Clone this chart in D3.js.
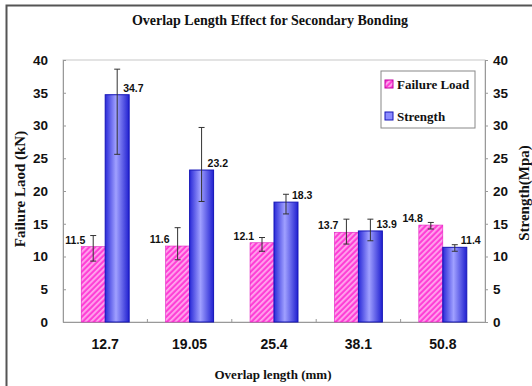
<!DOCTYPE html>
<html>
<head>
  <meta charset="utf-8">
  <title>Overlap Length Effect</title>
  <script src="https://d3js.org/d3.v7.min.js"></script>
  <style>
    body { margin: 0; background: #fff; }
    .tick-num { font-family: "Liberation Sans", Arial, sans-serif; font-weight: bold; fill: #111; }
    .serif { font-family: "Liberation Serif", "Times New Roman", serif; font-weight: bold; fill: #111; }
  </style>
</head>
<body>
<div id="chart"></div>
<script>
  "use strict"

  // dados
  var categorias = ["12.7", "19.05", "25.4", "38.1", "50.8"];
  var failureLoad = [11.5, 11.6, 12.1, 13.7, 14.8];
  var strength = [34.7, 23.2, 18.3, 13.9, 11.4];
  // erro (para cima / para baixo)
  var loadErrUp = [1.7, 2.8, 0.8, 2.0, 0.4];
  var loadErrDown = [2.2, 2.1, 1.3, 1.8, 0.6];
  var strErrUp = [3.9, 6.5, 1.2, 1.8, 0.4];
  var strErrDown = [9.1, 4.8, 1.8, 1.5, 0.6];
  var yTicks = [0, 5, 10, 15, 20, 25, 30, 35, 40];
  var series = ["Failure Load", "Strength"];

  var largura = 532, altura = 386;
  var margin = {top: 60, right: 47, bottom: 64, left: 63};
  var larguraVis = largura - margin.left - margin.right,
      alturaVis = altura - margin.top - margin.bottom;

  var svg = d3.select("#chart").append("svg")
      .attr("width", largura)
      .attr("height", altura);

  var defs = svg.append("defs");

  // hachura rosa
  var hatch = defs.append("pattern")
      .attr("id", "hatch")
      .attr("patternUnits", "userSpaceOnUse")
      .attr("width", 4).attr("height", 4)
      .attr("patternTransform", "rotate(45)");
  hatch.append("rect").attr("width", 4).attr("height", 4).attr("fill", "#ff3fd6");
  hatch.append("rect").attr("width", 1.8).attr("height", 4).attr("fill", "#ffa8ee");

  // gradiente azul (horizontal)
  var grad = defs.append("linearGradient")
      .attr("id", "blueGrad")
      .attr("x1", "0%").attr("x2", "100%").attr("y1", "0%").attr("y2", "0%");
  grad.append("stop").attr("offset", "0%").attr("stop-color", "#2a2ad8");
  grad.append("stop").attr("offset", "45%").attr("stop-color", "#a0a0ff");
  grad.append("stop").attr("offset", "100%").attr("stop-color", "#2020d0");

  // moldura externa (esquerda e topo)
  svg.append("path")
      .attr("d", "M6.5," + altura + "V5.5H" + largura)
      .attr("fill", "none")
      .attr("stroke", "#555")
      .attr("stroke-width", 2);

  var g = svg.append("g")
      .attr("transform", "translate(" + margin.left + "," + margin.top + ")");

  var x = d3.scaleBand()
      .domain(categorias)
      .range([0, larguraVis])
      .padding(0);

  var xSub = d3.scaleBand()
      .domain(series)
      .range([0, x.bandwidth()])
      .paddingInner(0)
      .paddingOuter(0.76);

  var y = d3.scaleLinear()
      .domain([0, 40])
      .range([alturaVis, 0]);

  // caixa da area do grafico
  g.append("rect")
      .attr("width", larguraVis)
      .attr("height", alturaVis)
      .attr("fill", "none")
      .attr("stroke", "#c8c8c8");

  // eixo esquerdo
  var eixoEsq = g.append("g")
      .call(d3.axisLeft(y).tickValues(yTicks).tickSizeInner(-3).tickSizeOuter(0).tickPadding(15));
  eixoEsq.select(".domain").attr("stroke", "#999");
  eixoEsq.selectAll("line").attr("stroke", "#999");
  eixoEsq.selectAll("text").attr("class", "tick-num").style("font-size", "13.5px");

  // eixo direito
  var eixoDir = g.append("g")
      .attr("transform", "translate(" + larguraVis + ",0)")
      .call(d3.axisRight(y).tickValues(yTicks).tickSizeInner(3).tickSizeOuter(0).tickPadding(5));
  eixoDir.select(".domain").attr("stroke", "#999");
  eixoDir.selectAll("line").attr("stroke", "#999");
  eixoDir.selectAll("text").attr("class", "tick-num").style("font-size", "13.5px");

  // eixo de baixo
  var eixoX = g.append("g")
      .attr("transform", "translate(0," + alturaVis + ")")
      .call(d3.axisBottom(x).tickSize(0).tickPadding(17));
  eixoX.select(".domain").attr("stroke", "#999");
  eixoX.selectAll("text").attr("class", "tick-num").style("font-size", "14px");

  // marcas entre categorias
  g.selectAll(".sep")
      .data(categorias.slice(1))
      .enter().append("line")
      .attr("x1", (d) => x(d)).attr("x2", (d) => x(d))
      .attr("y1", alturaVis).attr("y2", alturaVis - 3)
      .attr("stroke", "#999");

  var dados = categorias.map((c, i) => ({
    cat: c,
    load: failureLoad[i], loadUp: loadErrUp[i], loadDown: loadErrDown[i],
    str: strength[i], strUp: strErrUp[i], strDown: strErrDown[i]
  }));

  var grupos = g.selectAll(".grupo")
      .data(dados)
      .enter().append("g")
      .attr("transform", (d) => "translate(" + x(d.cat) + ",0)");

  // barras rosas
  grupos.append("rect")
      .attr("x", xSub("Failure Load"))
      .attr("y", (d) => y(d.load))
      .attr("width", xSub.bandwidth())
      .attr("height", (d) => alturaVis - y(d.load))
      .attr("fill", "url(#hatch)")
      .attr("stroke", "#e020c0")
      .attr("stroke-width", 0.6);

  // barras azuis
  grupos.append("rect")
      .attr("x", xSub("Strength"))
      .attr("y", (d) => y(d.str))
      .attr("width", xSub.bandwidth())
      .attr("height", (d) => alturaVis - y(d.str))
      .attr("fill", "url(#blueGrad)")
      .attr("stroke", "#1515b8")
      .attr("stroke-width", 1);

  // barras de erro
  function barraErro(sel, cx, topo, base) {
    sel.append("line")
        .attr("x1", cx).attr("x2", cx)
        .attr("y1", topo).attr("y2", base)
        .attr("stroke", "#333").attr("stroke-width", 1);
    sel.append("line")
        .attr("x1", (d) => cx(d) - 3).attr("x2", (d) => cx(d) + 3)
        .attr("y1", topo).attr("y2", topo)
        .attr("stroke", "#333").attr("stroke-width", 1);
    sel.append("line")
        .attr("x1", (d) => cx(d) - 3).attr("x2", (d) => cx(d) + 3)
        .attr("y1", base).attr("y2", base)
        .attr("stroke", "#333").attr("stroke-width", 1);
  }
  var cLoad = (d) => xSub("Failure Load") + xSub.bandwidth() / 2;
  var cStr = (d) => xSub("Strength") + xSub.bandwidth() / 2;
  barraErro(grupos, cLoad, (d) => y(d.load + d.loadUp), (d) => y(d.load - d.loadDown));
  barraErro(grupos, cStr, (d) => y(d.str + d.strUp), (d) => y(d.str - d.strDown));

  // rotulos dos valores
  grupos.append("text")
      .attr("class", "tick-num")
      .style("font-size", "10.5px")
      .attr("text-anchor", "end")
      .attr("x", xSub("Failure Load") + 4)
      .attr("y", (d) => y(d.load) - 3)
      .text((d) => d.load);

  grupos.append("text")
      .attr("class", "tick-num")
      .style("font-size", "10.5px")
      .attr("x", xSub("Strength") + 18)
      .attr("y", (d) => y(d.str) - 3)
      .text((d) => d.str);

  // titulos
  svg.append("text")
      .attr("class", "serif")
      .attr("x", 270).attr("y", 25)
      .attr("text-anchor", "middle")
      .style("font-size", "14px")
      .text("Overlap Length Effect for Secondary Bonding");

  svg.append("text")
      .attr("class", "serif")
      .attr("x", 273).attr("y", 379)
      .attr("text-anchor", "middle")
      .style("font-size", "13px")
      .text("Overlap length (mm)");

  svg.append("text")
      .attr("class", "serif")
      .attr("transform", "translate(25,189) rotate(-90)")
      .attr("text-anchor", "middle")
      .style("font-size", "15px")
      .text("Failure Laod (kN)");

  svg.append("text")
      .attr("class", "serif")
      .attr("transform", "translate(529,193) rotate(-90)")
      .attr("text-anchor", "middle")
      .style("font-size", "15px")
      .text("Strength(Mpa)");

  // legenda
  var leg = svg.append("g").attr("transform", "translate(381,71)");
  leg.append("rect")
      .attr("width", 94).attr("height", 57)
      .attr("fill", "#fff")
      .attr("stroke", "#888");
  var itens = leg.selectAll(".item")
      .data(series)
      .enter().append("g")
      .attr("transform", (d, i) => "translate(4," + (13 + i * 32) + ")");
  itens.append("rect")
      .attr("x", 0).attr("y", -4)
      .attr("width", 8).attr("height", 8)
      .attr("fill", (d, i) => i === 0 ? "url(#hatch)" : "#8c8cff")
      .attr("stroke", (d, i) => i === 0 ? "#c000a0" : "#1515b8");
  itens.append("text")
      .attr("class", "serif")
      .attr("x", 12).attr("y", 4.5)
      .style("font-size", "13px")
      .text((d) => d);
</script>
</body>
</html>
